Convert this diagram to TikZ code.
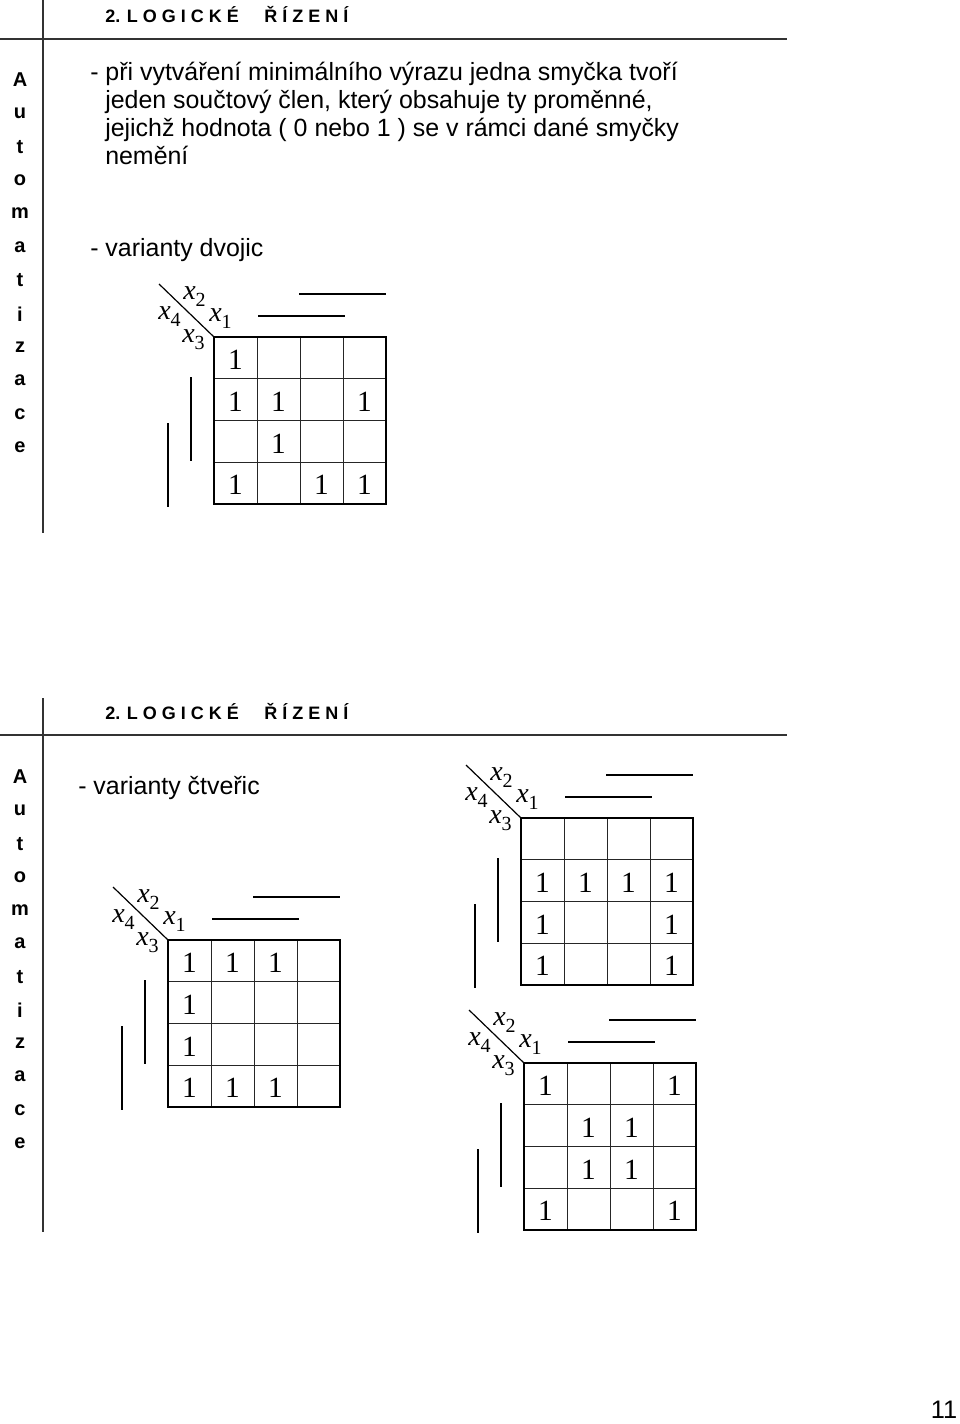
\documentclass[tikz,border=0pt]{standalone}
\usepackage{fontspec}
\setmainfont{Liberation Sans}
\newfontfamily\seriff{Liberation Serif}
\tikzset{
  x=0.75pt, y=-0.75pt,
  rule/.style={draw=black!80, line width=1.1pt},
  gridthin/.style={draw=black!85, line width=0.7pt},
  gridthick/.style={draw=black, line width=1.5pt},
  bar/.style={draw=black, line width=1.4pt},
  diag/.style={draw=black, line width=0.9pt},
  one/.style={inner sep=0pt, font=\seriff\fontsize{22}{22}\selectfont},
  lab/.style={inner sep=0pt, anchor=base west, font=\seriff\itshape\fontsize{21}{21}\selectfont},
  body/.style={inner sep=0pt, anchor=base west, font=\fontsize{18.7}{21}\selectfont},
  side/.style={inner sep=0pt, font=\bfseries\fontsize{15}{15}\selectfont},
  ttl/.style={inner sep=0pt, anchor=base west, font=\bfseries\fontsize{13.5}{13.5}\selectfont},
}
\newcommand{\xs}[1]{x\raisebox{-5.5pt}{\upshape\fontsize{15}{15}\selectfont #1}}
\newcommand{\KMap}[4]{%
  \begin{scope}[shift={(#2,#3)}]
    \coordinate (#1-o) at (0,0);
    \coordinate (#1-d) at (-55,-53);
    \foreach \i in {1,2,3} {
      \draw[gridthin] (\i*43,0) -- (\i*43,167);
      \draw[gridthin] (0,\i*41.75) -- (172,\i*41.75);
    }
    \draw[gridthick] (0,0) rectangle (172,167);
    \draw[diag] (#1-d) -- (#1-o);
    \node[lab] (#1-x2) at (-31,-38) {\xs{2}};
    \node[lab] (#1-x4) at (-56,-18) {\xs{4}};
    \node[lab] (#1-x1) at (-5,-16) {\xs{1}};
    \node[lab] (#1-x3) at (-32,5) {\xs{3}};
    \coordinate (#1-b1s) at (85,-43); \coordinate (#1-b1e) at (172,-43);
    \coordinate (#1-b2s) at (44,-21); \coordinate (#1-b2e) at (131,-21);
    \coordinate (#1-b3s) at (-23,40); \coordinate (#1-b3e) at (-23,124);
    \coordinate (#1-b4s) at (-46,86); \coordinate (#1-b4e) at (-46,170);
    \draw[bar] (#1-b1s) -- (#1-b1e);
    \draw[bar] (#1-b2s) -- (#1-b2e);
    \draw[bar] (#1-b3s) -- (#1-b3e);
    \draw[bar] (#1-b4s) -- (#1-b4e);
    \foreach \r/\c in {#4} {
      \node[one] (#1-c\r\c) at ({(\c-0.5)*43},{(\r-0.5)*41.75+2}) {1};
    }
  \end{scope}}
\begin{document}
\begin{tikzpicture}
\useasboundingbox (0,0) rectangle (960,1424);
% ---------- top page ----------
\coordinate (t-h1) at (0,39); \coordinate (t-h2) at (787,39);
\coordinate (t-v1) at (43,0); \coordinate (t-v2) at (43,533);
\draw[rule] (t-h1) -- (t-h2);
\draw[rule] (t-v1) -- (t-v2);
\node[ttl] (t-title) at (105,22) {2. L O G I C K É\hspace{19pt}Ř Í Z E N Í};
\foreach \ch [count=\k from 0] in {A,u,t,o,m,a,t,i,z,a,c,e} {
  \node[side] (t-s\k) at (20,{80+\k*33.4}) {\ch};
}
\node[body] (t-l1) at (90,80) {- při vytváření minimálního výrazu jedna smyčka tvoří};
\node[body] (t-l2) at (105,108) {jeden součtový člen, který obsahuje ty proměnné,};
\node[body] (t-l3) at (105,136) {jejichž hodnota ( 0 nebo 1 ) se v rámci dané smyčky};
\node[body] (t-l4) at (105,164) {nemění};
\node[body] (t-l5) at (90,256) {- varianty dvojic};
\KMap{A}{214}{337}{1/1,2/1,2/2,2/4,3/2,4/1,4/3,4/4}
% ---------- bottom page ----------
\coordinate (b-h1) at (0,735); \coordinate (b-h2) at (787,735);
\coordinate (b-v1) at (43,698); \coordinate (b-v2) at (43,1232);
\draw[rule] (b-h1) -- (b-h2);
\draw[rule] (b-v1) -- (b-v2);
\node[ttl] (b-title) at (105,719) {2. L O G I C K É\hspace{19pt}Ř Í Z E N Í};
\foreach \ch [count=\k from 0] in {A,u,t,o,m,a,t,i,z,a,c,e} {
  \node[side] (b-s\k) at (20,{777+\k*33.3}) {\ch};
}
\node[body] (b-l1) at (78,794) {- varianty čtveřic};
\KMap{B}{168}{940}{1/1,1/2,1/3,2/1,3/1,4/1,4/2,4/3}
\KMap{C}{521}{818}{2/1,2/2,2/3,2/4,3/1,3/4,4/1,4/4}
\KMap{D}{524}{1063}{1/1,1/4,2/2,2/3,3/2,3/3,4/1,4/4}
\node[inner sep=0pt, font=\fontsize{19}{19}\selectfont] (pg) at (944,1410) {11};
\end{tikzpicture}
\end{document}
